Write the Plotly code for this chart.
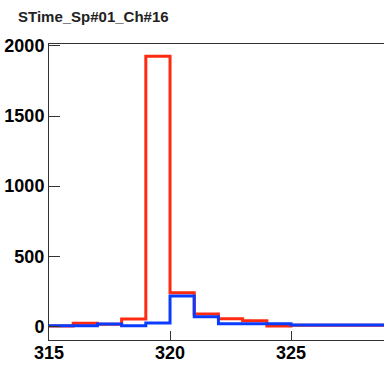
import plotly.graph_objects as go

# Bin left edges (bin width 1) and final right edge
bin_edges = list(range(315, 331))
red_counts = [3, 21, 15, 52, 1926, 240, 88, 54, 40, 2, 8, 8, 8, 8, 8]
blue_counts = [4, 4, 16, 4, 24, 216, 68, 19, 19, 19, 9, 9, 9, 9, 9]

title_text = "STime_Sp#01_Ch#16"
x_ticks = [315, 320, 325]
y_ticks = [0, 500, 1000, 1500, 2000]


def step_xy(edges, counts):
    xs = list(edges)
    ys = list(counts) + [counts[-1]]
    return xs, ys


fig = go.Figure()
rx, ry = step_xy(bin_edges, red_counts)
bx, by = step_xy(bin_edges, blue_counts)
fig.add_trace(go.Scatter(x=rx, y=ry, mode="lines", line=dict(shape="hv", color="#ff2a10", width=3),
                         hoverinfo="skip", showlegend=False))
fig.add_trace(go.Scatter(x=bx, y=by, mode="lines", line=dict(shape="hv", color="#0a3cff", width=3),
                         hoverinfo="skip", showlegend=False))

tickfont = dict(family="Liberation Sans, Arial, sans-serif", size=18, color="black", weight="bold")

fig.update_layout(
    width=384, height=368,
    margin=dict(l=49, r=0, t=44, b=28, autoexpand=False),
    paper_bgcolor="white", plot_bgcolor="white",
    xaxis=dict(range=[315, 328.84], tickvals=x_ticks, ticks="inside", ticklen=9, tickwidth=1,
               tickcolor="#333", showline=True, linecolor="#333", linewidth=1, mirror=True,
               showgrid=False, zeroline=False, tickfont=tickfont, automargin=False,
               ticklabelstandoff=-4),
    yaxis=dict(range=[-97.6, 2014], tickvals=y_ticks, ticks="inside", ticklen=11, tickwidth=1,
               tickcolor="#333", showline=True, linecolor="#333", linewidth=1, mirror=False,
               showgrid=False, zeroline=False, tickfont=tickfont, automargin=False),
    annotations=[dict(text=title_text, xref="paper", yref="paper", x=-0.0985, y=1.092,
                      xanchor="left", yanchor="middle", showarrow=False,
                      font=dict(family="Liberation Sans, Arial, sans-serif", size=15, color="#222",
                                weight="bold"))],
)

fig.write_html("out.html", config={"displayModeBar": False},
               post_script="document.body.style.margin='0';document.body.style.overflow='hidden';")
